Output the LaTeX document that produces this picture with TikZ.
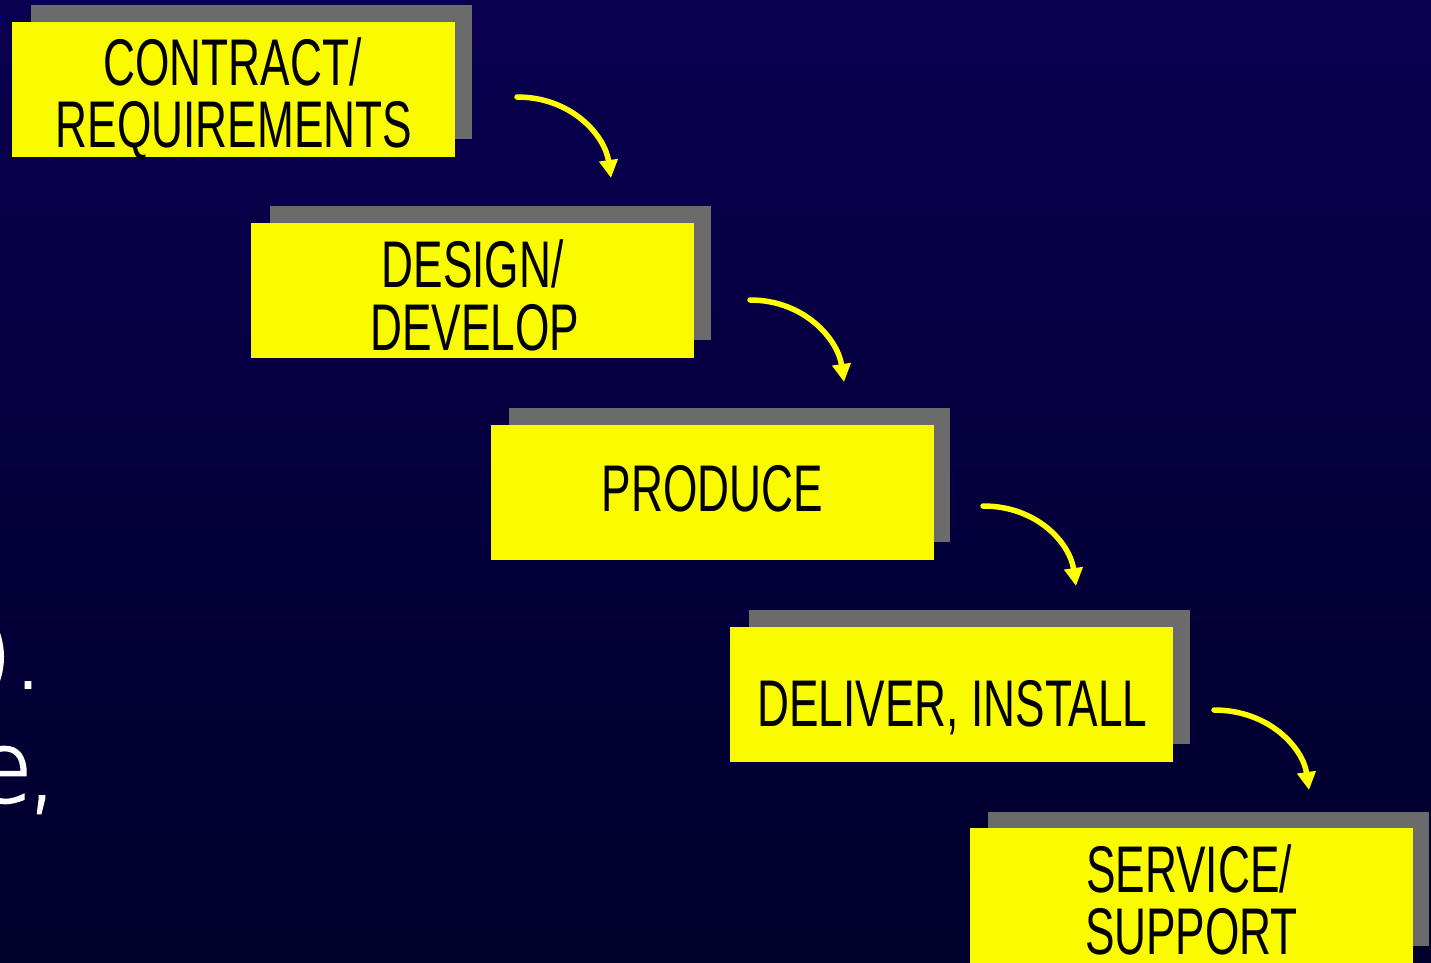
\documentclass[tikz,border=0pt]{standalone}
\usepackage{fontspec}
\setmainfont{Liberation Sans}
\newfontfamily\condfont[FakeStretch=0.67]{Liberation Sans}
\newfontfamily\thinfont[FakeBold=1.8]{DejaVu Sans ExtraLight}
\usetikzlibrary{arrows.meta}
\definecolor{bgtop}{HTML}{0A0050}
\definecolor{bgbot}{HTML}{00002A}
\definecolor{boxyellow}{HTML}{FBFB00}
\definecolor{shadowgray}{HTML}{6B6B6B}
\definecolor{arrowyellow}{HTML}{FFFF00}
\begin{document}
\begin{tikzpicture}[x=1pt,y=-1pt,
  stagebox/.style={fill=boxyellow, draw=none, minimum width=443pt, minimum height=135pt, inner sep=0pt, outer sep=0pt},
  shadowbox/.style={fill=shadowgray, draw=none, minimum width=441pt, minimum height=134pt, inner sep=0pt, outer sep=0pt},
  stagetext/.style={font=\condfont\fontsize{66}{62}\selectfont, text=black, inner sep=0pt, anchor=base},
  flow/.style={draw=arrowyellow, line width=5.5pt, line cap=round, -{Triangle[length=18pt,width=18pt]}},
  sidetext/.style={font=\thinfont\fontsize{99}{110}\selectfont, text=white, inner sep=0pt, anchor=base east}]
\useasboundingbox (0,0) rectangle (1431,962);
\fill[top color=bgtop, bottom color=bgbot] (0,0) rectangle (1431,962);

% partial side text
\node[sidetext] (side1) at (44,688) {)\kern-1pt.};
\node[sidetext] (side2) at (58,802) {e\kern-7pt,};

% shadows
\node[shadowbox] (s1) at (251,72) {};
\node[shadowbox] (s2) at (490,273) {};
\node[shadowbox] (s3) at (729,474.5) {};
\node[shadowbox] (s4) at (969,676.5) {};
\node[shadowbox] (s5) at (1208.5,879) {};

% boxes
\node[stagebox] (b1) at (233.5,89.5) {};
\node[stagebox] (b2) at (472.5,290.5) {};
\node[stagebox] (b3) at (712.5,492.5) {};
\node[stagebox] (b4) at (951.5,694.5) {};
\node[stagebox] (b5) at (1191.5,895.5) {};

% texts
\node[stagetext] (t1a) at (232.5,85) {CONTRACT/};
\node[stagetext] (t1b) at (234,147) {REQUIREMENTS};
\node[stagetext] (t2a) at (472.5,287) {DESIGN/};
\node[stagetext] (t2b) at (475,350) {DEVELOP};
\node[stagetext] (t3) at (712.5,511) {PRODUCE};
\node[stagetext] (t4) at (952.5,726) {DELIVER, INSTALL};
\node[stagetext] (t5a) at (1189,892) {SERVICE/};
\node[stagetext] (t5b) at (1191.5,954) {SUPPORT};

% arrows
\coordinate (a1s) at (517,97);   \coordinate (a1e) at (611,178);
\coordinate (a2s) at (750,300);  \coordinate (a2e) at (844,382);
\coordinate (a3s) at (983,506);  \coordinate (a3e) at (1076,586);
\coordinate (a4s) at (1214,710); \coordinate (a4e) at (1309,790);
\foreach \k in {1,2,3,4}{
  \draw[flow] (a\k s) .. controls +(55,0) and +(-6,-42) .. (a\k e);
}
\end{tikzpicture}
\end{document}
